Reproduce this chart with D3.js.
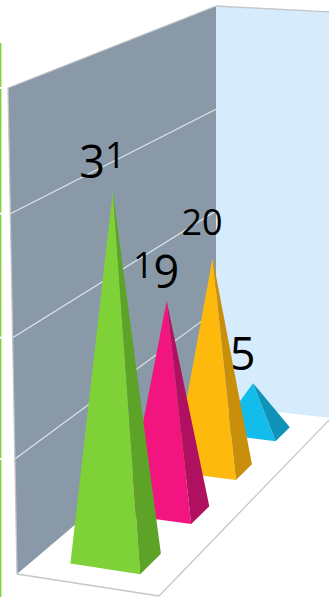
<!DOCTYPE html>
<html><head><meta charset="utf-8"><script src="https://cdn.jsdelivr.net/npm/d3@7"></script>
<style>html,body{margin:0;padding:0;background:#fff}svg{display:block}
text{font-family:"Open Sans","Noto Sans",sans-serif}</style></head>
<body><svg id="c" width="329" height="597"></svg>
<script>
const categories=["A","B","C","D"];
const values=[31,19,20,5];
const frontColors=["#7ed237","#f2157f","#fdba0c","#13bdeb"];
const sideColors=["#5da327","#b01060","#c98f0a","#0f93b8"];
const yTicks=[10,20,30];
const yDomain=[0,40];
// projected frame of the 3D box: [front-left, front-right, back-right, back-left]
const floorQuad=[[17,574],[159,596],[331,418],[216,405]];
const ceilQuad=[[8,88],[156,98],[331,12],[216,6]];

function homography(q){ // unit square -> quad
  const [[x0,y0],[x1,y1],[x2,y2],[x3,y3]]=q;
  const dx1=x1-x2,dx2=x3-x2,sx=x0-x1+x2-x3,dy1=y1-y2,dy2=y3-y2,sy=y0-y1+y2-y3;
  const d=dx1*dy2-dx2*dy1,g=(sx*dy2-dx2*sy)/d,h=(dx1*sy-sx*dy1)/d;
  const a=x1-x0+g*x1,b=x3-x0+h*x3,c=x0,e=y1-y0+g*y1,f=y3-y0+h*y3,i=y0;
  return (u,v)=>{const w=g*u+h*v+1;return [(a*u+b*v+c)/w,(e*u+f*v+i)/w];};
}
const F=homography(floorQuad),T=homography(ceilQuad);
const yScale=d3.scalePow().exponent(1.04).domain(yDomain).range([0,1]);
const P=(u,v,val)=>{const a=F(u,v),b=T(u,v),t=yScale(val);return [a[0]+(b[0]-a[0])*t,a[1]+(b[1]-a[1])*t];};
const depth=d3.scaleBand().domain(categories).range([0.074,0.911]).paddingInner(0.61).paddingOuter(0);
const across=d3.scaleLinear().domain([0,1]).range([0.256,0.756]);
const svg=d3.select("#c");
const line=d3.line();
const poly=pts=>line(pts)+"Z";

svg.append("rect").attr("x",0).attr("width",1.4).attr("y",43).attr("height",554).attr("fill","#7ed237");
svg.selectAll("rect.gap").data([...yTicks,40]).join("rect").attr("x",0).attr("width",2).attr("height",2)
  .attr("y",d=>P(0,0,d)[1]-1).attr("fill","#fff");
// walls
svg.append("path").attr("d",poly([P(0,0,0),P(0,1,0),P(0,1,40),P(0,0,40)])).attr("fill","#8999a7");
svg.append("path").attr("d",poly([P(0,1,0),P(1,1,0),P(1,1,40),P(0,1,40)])).attr("fill","#d6ebfc");
// gridlines
svg.selectAll("line.gl").data(yTicks).join("line").attr("stroke","#dfe6ea").attr("stroke-width",1.2)
 .attr("x1",d=>P(0,0,d)[0]).attr("y1",d=>P(0,0,d)[1]).attr("x2",d=>P(0,1,d)[0]).attr("y2",d=>P(0,1,d)[1]);
svg.selectAll("line.gr").data(yTicks).join("line").attr("stroke","#dcedfb").attr("stroke-width",1)
 .attr("x1",d=>P(0,1,d)[0]).attr("y1",d=>P(0,1,d)[1]).attr("x2",d=>P(1,1,d)[0]).attr("y2",d=>P(1,1,d)[1]);
// frame lines
const frame=[[P(0,0,0),P(0,0,40)],[P(0,0,40),P(0,1,40)],[P(0,1,40),P(1,1,40)],[P(0,0,0),P(1,0,0)],[P(1,0,0),P(1,1,0)]];
svg.selectAll("path.fr").data(frame).join("path").attr("d",d=>line(d)).attr("stroke","#c4c6c8").attr("stroke-width",1.3).attr("fill","none");
// old-style figures: tall digits hang below the baseline, the others sit at x-height
const hanging=new Set("3579".split(""));
function addLabel(x,y,val){
  const t=svg.append("text").attr("x",x).attr("y",y).attr("text-anchor","middle").attr("fill","#000");
  let prev=0;
  String(val).split("").forEach(ch=>{
    const tall=hanging.has(ch), dy=tall?10:0;
    t.append("tspan").attr("font-size",tall?45:36).attr("dy",dy-prev).text(ch);
    prev=dy;
  });
}
// pyramids, back to front
const rows=categories.map((c,i)=>({c,i,val:values[i]})).reverse();
rows.forEach(r=>{
  const v0=depth(r.c),v1=v0+depth.bandwidth(),u0=across(0),u1=across(1);
  const apex=P((u0+u1)/2,(v0+v1)/2,r.val);
  svg.append("path").attr("d",poly([F(u0,v0),F(u1,v0),apex])).attr("fill",frontColors[r.i]);
  svg.append("path").attr("d",poly([F(u1,v0),F(u1,v1),apex])).attr("fill",sideColors[r.i]);
  addLabel(apex[0]-10.5,apex[1]-23,r.val);
});
</script></body></html>
